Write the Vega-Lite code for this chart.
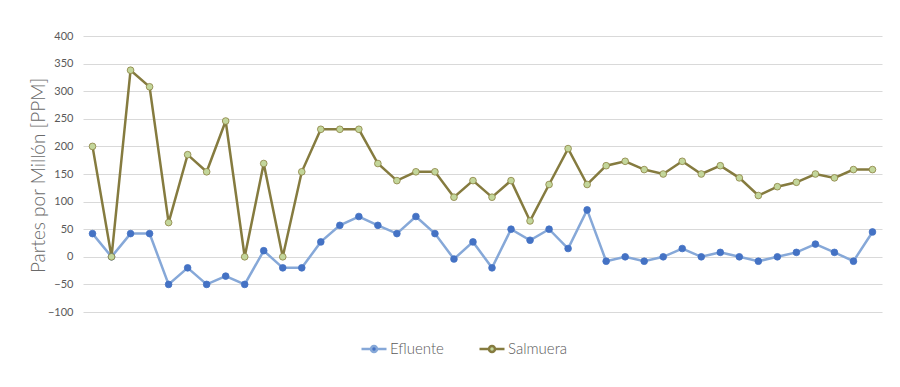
{
  "$schema": "https://vega.github.io/schema/vega-lite/v6.json",
  "width": 799,
  "height": 276,
  "autosize": {"type": "none"},
  "padding": {"left": 83, "top": 36, "right": 18, "bottom": 75},
  "background": "white",
  "config": {
    "view": {"stroke": null},
    "font": "Lato",
    "legend": {
      "orient": "none",
      "legendX": 277,
      "legendY": 299,
      "direction": "horizontal",
      "title": null,
      "symbolType": "M-1,0H-0.24M0.24,0H1M-0.24,0A0.24,0.24 0 1,0 0.24,0A0.24,0.24 0 1,0 -0.24,0Z",
      "symbolSize": 625,
      "symbolStrokeWidth": 2.5,
      "labelFontSize": 15,
      "labelFontWeight": 300,
      "labelColor": "#595959",
      "labelOffset": 2,
      "columnPadding": 30
    }
  },
  "data": {
    "values": [
      {"i": 1, "s": "Efluente", "v": 42}, {"i": 2, "s": "Efluente", "v": 0}, {"i": 3, "s": "Efluente", "v": 42},
      {"i": 4, "s": "Efluente", "v": 42}, {"i": 5, "s": "Efluente", "v": -50}, {"i": 6, "s": "Efluente", "v": -20},
      {"i": 7, "s": "Efluente", "v": -50}, {"i": 8, "s": "Efluente", "v": -35}, {"i": 9, "s": "Efluente", "v": -50},
      {"i": 10, "s": "Efluente", "v": 11}, {"i": 11, "s": "Efluente", "v": -20}, {"i": 12, "s": "Efluente", "v": -20},
      {"i": 13, "s": "Efluente", "v": 27}, {"i": 14, "s": "Efluente", "v": 57}, {"i": 15, "s": "Efluente", "v": 73},
      {"i": 16, "s": "Efluente", "v": 57}, {"i": 17, "s": "Efluente", "v": 42}, {"i": 18, "s": "Efluente", "v": 73},
      {"i": 19, "s": "Efluente", "v": 42}, {"i": 20, "s": "Efluente", "v": -4}, {"i": 21, "s": "Efluente", "v": 27},
      {"i": 22, "s": "Efluente", "v": -20}, {"i": 23, "s": "Efluente", "v": 50}, {"i": 24, "s": "Efluente", "v": 30},
      {"i": 25, "s": "Efluente", "v": 50}, {"i": 26, "s": "Efluente", "v": 15}, {"i": 27, "s": "Efluente", "v": 85},
      {"i": 28, "s": "Efluente", "v": -8}, {"i": 29, "s": "Efluente", "v": 0}, {"i": 30, "s": "Efluente", "v": -8},
      {"i": 31, "s": "Efluente", "v": 0}, {"i": 32, "s": "Efluente", "v": 15}, {"i": 33, "s": "Efluente", "v": 0},
      {"i": 34, "s": "Efluente", "v": 8}, {"i": 35, "s": "Efluente", "v": 0}, {"i": 36, "s": "Efluente", "v": -8},
      {"i": 37, "s": "Efluente", "v": 0}, {"i": 38, "s": "Efluente", "v": 8}, {"i": 39, "s": "Efluente", "v": 23},
      {"i": 40, "s": "Efluente", "v": 8}, {"i": 41, "s": "Efluente", "v": -8}, {"i": 42, "s": "Efluente", "v": 45},
      {"i": 1, "s": "Salmuera", "v": 200}, {"i": 2, "s": "Salmuera", "v": 0}, {"i": 3, "s": "Salmuera", "v": 338},
      {"i": 4, "s": "Salmuera", "v": 308}, {"i": 5, "s": "Salmuera", "v": 62}, {"i": 6, "s": "Salmuera", "v": 185},
      {"i": 7, "s": "Salmuera", "v": 154}, {"i": 8, "s": "Salmuera", "v": 246}, {"i": 9, "s": "Salmuera", "v": 0},
      {"i": 10, "s": "Salmuera", "v": 169}, {"i": 11, "s": "Salmuera", "v": 0}, {"i": 12, "s": "Salmuera", "v": 154},
      {"i": 13, "s": "Salmuera", "v": 231}, {"i": 14, "s": "Salmuera", "v": 231}, {"i": 15, "s": "Salmuera", "v": 231},
      {"i": 16, "s": "Salmuera", "v": 169}, {"i": 17, "s": "Salmuera", "v": 138}, {"i": 18, "s": "Salmuera", "v": 154},
      {"i": 19, "s": "Salmuera", "v": 154}, {"i": 20, "s": "Salmuera", "v": 108}, {"i": 21, "s": "Salmuera", "v": 138},
      {"i": 22, "s": "Salmuera", "v": 108}, {"i": 23, "s": "Salmuera", "v": 138}, {"i": 24, "s": "Salmuera", "v": 65},
      {"i": 25, "s": "Salmuera", "v": 131}, {"i": 26, "s": "Salmuera", "v": 196}, {"i": 27, "s": "Salmuera", "v": 131},
      {"i": 28, "s": "Salmuera", "v": 165}, {"i": 29, "s": "Salmuera", "v": 173}, {"i": 30, "s": "Salmuera", "v": 158},
      {"i": 31, "s": "Salmuera", "v": 150}, {"i": 32, "s": "Salmuera", "v": 173}, {"i": 33, "s": "Salmuera", "v": 150},
      {"i": 34, "s": "Salmuera", "v": 165}, {"i": 35, "s": "Salmuera", "v": 143}, {"i": 36, "s": "Salmuera", "v": 111},
      {"i": 37, "s": "Salmuera", "v": 127}, {"i": 38, "s": "Salmuera", "v": 135}, {"i": 39, "s": "Salmuera", "v": 150},
      {"i": 40, "s": "Salmuera", "v": 143}, {"i": 41, "s": "Salmuera", "v": 158}, {"i": 42, "s": "Salmuera", "v": 158}
    ]
  },
  "encoding": {
    "x": {"field": "i", "type": "ordinal", "scale": {"type": "point", "padding": 0.5}, "axis": null},
    "y": {
      "field": "v",
      "type": "quantitative",
      "scale": {"domain": [-100, 400], "nice": false, "zero": false},
      "axis": {
        "values": [-100, -50, 0, 50, 100, 150, 200, 250, 300, 350, 400],
        "domain": false,
        "ticks": false,
        "labelPadding": 10,
        "labelFontSize": 11,
        "labelColor": "#595959",
        "gridColor": "#D9D9D9",
        "gridWidth": 1,
        "title": "Partes por Millón [PPM]",
        "titleFontSize": 19,
        "titleFontWeight": 300,
        "titleColor": "#6A6A6A",
        "titleX": -45,
        "titleY": 139,
        "titleAngle": -90,
        "titleAlign": "center",
        "titleBaseline": "middle"
      }
    }
  },
  "layer": [
    {
      "mark": {"type": "line", "strokeWidth": 2.5},
      "encoding": {
        "stroke": {
          "field": "s",
          "type": "nominal",
          "scale": {"domain": ["Efluente", "Salmuera"], "range": ["#86A8D8", "#857B3F"]}
        }
      }
    },
    {
      "mark": {"type": "point", "shape": "circle", "filled": true, "size": 45, "strokeWidth": 0.8, "opacity": 1},
      "encoding": {
        "fill": {
          "field": "s",
          "type": "nominal",
          "scale": {"domain": ["Efluente", "Salmuera"], "range": ["#4472C4", "#C3D69B"]}
        },
        "stroke": {
          "condition": {"test": "datum.s === 'Salmuera'", "value": "#8A8040"},
          "value": "#4472C4"
        }
      }
    }
  ]
}
